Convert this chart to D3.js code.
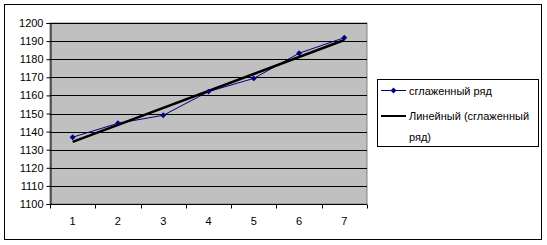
<!DOCTYPE html>
<html lang="ru">
<head>
<meta charset="UTF-8">
<title>Сглаженный ряд</title>
<script src="https://cdn.jsdelivr.net/npm/d3@7"></script>
<style>
  body { margin: 0; background: #fff; }
  text { font-family: "Liberation Sans", Arial, sans-serif; font-size: 11px; fill: #000; }
</style>
</head>
<body>
<svg width="547" height="245" id="mainsvg"></svg>
<script>
  // data
  const categories = [1, 2, 3, 4, 5, 6, 7]
  const smoothed = [1136.9, 1144.6, 1149.0, 1162.1, 1169.4, 1183.3, 1191.9]
  const yTicks = [1100, 1110, 1120, 1130, 1140, 1150, 1160, 1170, 1180, 1190, 1200]
  const seriesName = 'сглаженный ряд'
  const trendName = ['Линейный (сглаженный', 'ряд)']

  const svg = d3.select('#mainsvg')
  const plot = { left: 50, top: 23, right: 367, bottom: 204 }

  // outer frame
  svg.append('rect').attr('x', 4.5).attr('y', 4.5).attr('width', 537).attr('height', 235)
    .attr('fill', '#fff').attr('stroke', '#000').attr('stroke-width', 1)

  const x = d3.scaleBand().domain(categories).range([plot.left, plot.right])
  const y = d3.scaleLinear().domain([1100, 1200]).range([plot.bottom, plot.top])
  const cx = d => x(d) + x.bandwidth() / 2

  // plot area
  svg.append('rect').attr('x', plot.left).attr('y', plot.top)
    .attr('width', plot.right - plot.left).attr('height', plot.bottom - plot.top)
    .attr('fill', '#c0c0c0').attr('stroke', '#808080')

  // gridlines
  svg.append('g').selectAll('line').data(yTicks.slice(1)).enter().append('line')
    .attr('x1', plot.left).attr('x2', plot.right)
    .attr('y1', d => Math.round(y(d)) + 0.5).attr('y2', d => Math.round(y(d)) + 0.5)
    .attr('stroke', '#000')

  // y axis
  const yAxis = d3.axisLeft(y).tickValues(yTicks).tickSize(4).tickPadding(3).tickFormat(d3.format('d'))
  svg.append('g').attr('transform', `translate(${plot.left + 0.5},0)`).call(yAxis)
    .call(g => g.select('.domain').attr('stroke', '#000'))
    .call(g => g.selectAll('.tick line').attr('stroke', '#000'))
    .call(g => g.selectAll('.tick text').attr('font-size', 11).attr('font-family', '"Liberation Sans", Arial, sans-serif'))

  // x axis: ticks between categories, labels at centres
  const xAxisG = svg.append('g').attr('transform', `translate(0,${plot.bottom + 0.5})`)
  xAxisG.append('line').attr('x1', plot.left).attr('x2', plot.right).attr('stroke', '#000')
  xAxisG.selectAll('.xt').data(categories.concat([null])).enter().append('line')
    .attr('x1', (d, i) => Math.round(plot.left + i * x.step()) + 0.5)
    .attr('x2', (d, i) => Math.round(plot.left + i * x.step()) + 0.5)
    .attr('y1', 0).attr('y2', 4).attr('stroke', '#000')
  xAxisG.selectAll('text').data(categories).enter().append('text')
    .attr('x', d => cx(d)).attr('y', 20).attr('text-anchor', 'middle').text(d => d)

  // linear trend (least squares over the smoothed series)
  const n = smoothed.length
  const mx = d3.mean(categories), my = d3.mean(smoothed)
  const slope = d3.sum(categories, (c, i) => (c - mx) * (smoothed[i] - my)) / d3.sum(categories, c => (c - mx) ** 2)
  const icpt = my - slope * mx
  const trend = categories.map(c => icpt + slope * c)

  const line = d3.line().x((d, i) => cx(categories[i])).y(d => y(d))

  svg.append('path').datum(smoothed).attr('d', line)
    .attr('fill', 'none').attr('stroke', '#000080').attr('stroke-width', 1)

  svg.append('path').datum([trend[0], trend[n - 1]])
    .attr('d', d3.line().x((d, i) => cx(categories[i * (n - 1)])).y(d => y(d)))
    .attr('fill', 'none').attr('stroke', '#000').attr('stroke-width', 2.5)

  const diamond = d3.symbol().type(d3.symbolDiamond2).size(22)
  svg.append('g').selectAll('path').data(smoothed).enter().append('path')
    .attr('d', diamond)
    .attr('transform', (d, i) => `translate(${cx(categories[i])},${y(d)})`)
    .attr('fill', '#000080')

  // legend
  const lg = svg.append('g')
  lg.append('rect').attr('x', 377.5).attr('y', 79.5).attr('width', 161).attr('height', 67)
    .attr('fill', '#fff').attr('stroke', '#000')
  lg.append('line').attr('x1', 381).attr('x2', 406).attr('y1', 90.5).attr('y2', 90.5).attr('stroke', '#000080')
  lg.append('path').attr('d', diamond).attr('transform', 'translate(393.5,90.5)').attr('fill', '#000080')
  lg.append('text').attr('x', 409).attr('y', 94.5).attr('font-size', 11.3).text(seriesName)
  lg.append('line').attr('x1', 381).attr('x2', 406).attr('y1', 116).attr('y2', 116).attr('stroke', '#000').attr('stroke-width', 2)
  lg.append('text').attr('x', 409).attr('y', 120).attr('font-size', 11.3).text(trendName[0])
  lg.append('text').attr('x', 409).attr('y', 141).attr('font-size', 11.3).text(trendName[1])
</script>
</body>
</html>
